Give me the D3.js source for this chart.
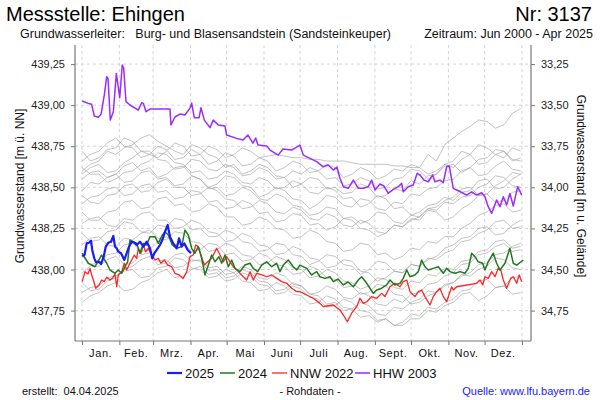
<!DOCTYPE html>
<html><head><meta charset="utf-8">
<script src="https://cdn.jsdelivr.net/npm/d3@7"></script>
<style>body{margin:0;background:#fff}svg{display:block;font-family:"Liberation Sans",Arial,sans-serif}</style>
</head><body><svg id="c" width="600" height="400"></svg>
<script>
// ---- data ----
const monthLabels = ["Jan.","Feb.","Mrz.","Apr.","Mai","Juni","Juli","Aug.","Sept.","Okt.","Nov.","Dez."];
const monthStarts = [0,31,59,90,120,151,181,212,243,273,304,334,365];
const leftTicks = [437.75,438.00,438.25,438.50,438.75,439.00,439.25];
const rightTicks = [33.25,33.50,33.75,34.00,34.25,34.50,34.75];
const groundLevel = 472.50;
const greyStepDays = 7; // weekly values, day of year = index * 7
const greyYears = [
[438.66,438.70,438.72,438.77,438.80,438.75,438.74,438.68,438.70,438.75,438.73,438.67,438.68,438.73,438.70,438.64,438.66,438.71,438.69,438.63,438.64,438.68,438.66,438.60,438.62,438.66,438.64,438.59,438.60,438.64,438.62,438.56,438.58,438.62,438.60,438.55,438.57,438.61,438.60,438.64,438.62,438.70,438.66,438.76,438.80,438.84,438.87,438.91,438.90,438.86,438.88,438.95,438.98],
[438.72,438.66,438.68,438.73,438.74,438.80,438.78,438.72,438.70,438.68,438.72,438.77,438.75,438.69,438.70,438.75,438.73,438.68,438.70,438.74,438.72,438.68,438.69,438.70,438.69,438.68,438.68,438.67,438.67,438.66,438.66,438.66,438.65,438.64,438.64,438.64,438.64,438.63,438.63,438.62,438.62,438.58,438.60,438.64,438.66,438.72,438.70,438.76,438.74,438.70,438.68,438.74,438.72],
[438.60,438.64,438.66,438.72,438.70,438.74,438.76,438.80,438.82,438.78,438.75,438.72,438.70,438.76,438.74,438.70,438.68,438.62,438.64,438.58,438.60,438.64,438.62,438.57,438.56,438.50,438.52,438.56,438.55,438.49,438.50,438.46,438.47,438.52,438.50,438.44,438.45,438.49,438.48,438.54,438.52,438.57,438.58,438.64,438.62,438.67,438.70,438.64,438.65,438.70,438.72,438.66,438.68],
[438.55,438.59,438.60,438.56,438.58,438.63,438.65,438.60,438.62,438.56,438.58,438.62,438.63,438.57,438.55,438.50,438.52,438.57,438.56,438.51,438.50,438.44,438.46,438.50,438.48,438.43,438.42,438.37,438.40,438.45,438.44,438.39,438.38,438.43,438.42,438.37,438.36,438.41,438.40,438.46,438.45,438.49,438.50,438.54,438.55,438.60,438.62,438.57,438.58,438.63,438.66,438.61,438.60],
[438.62,438.58,438.58,438.53,438.55,438.59,438.60,438.64,438.66,438.71,438.70,438.65,438.64,438.59,438.60,438.55,438.56,438.60,438.58,438.53,438.52,438.56,438.54,438.49,438.50,438.54,438.52,438.47,438.46,438.50,438.48,438.43,438.44,438.38,438.40,438.45,438.43,438.37,438.38,438.33,438.35,438.39,438.40,438.44,438.42,438.47,438.48,438.54,438.55,438.49,438.50,438.55,438.58],
[438.48,438.53,438.52,438.56,438.58,438.53,438.54,438.59,438.60,438.55,438.56,438.51,438.52,438.57,438.55,438.49,438.50,438.45,438.46,438.50,438.48,438.43,438.42,438.46,438.44,438.39,438.38,438.33,438.34,438.38,438.37,438.31,438.32,438.28,438.30,438.35,438.34,438.29,438.28,438.33,438.32,438.37,438.36,438.41,438.40,438.44,438.45,438.50,438.52,438.57,438.56,438.51,438.50],
[438.40,438.44,438.45,438.49,438.50,438.45,438.46,438.51,438.52,438.47,438.48,438.43,438.44,438.48,438.47,438.41,438.42,438.37,438.38,438.42,438.40,438.34,438.35,438.29,438.30,438.34,438.33,438.27,438.28,438.24,438.26,438.31,438.30,438.25,438.24,438.20,438.22,438.27,438.26,438.31,438.30,438.36,438.35,438.30,438.32,438.37,438.40,438.45,438.46,438.41,438.42,438.47,438.48],
[438.35,438.30,438.30,438.35,438.36,438.41,438.42,438.37,438.38,438.43,438.44,438.39,438.40,438.35,438.36,438.40,438.38,438.32,438.32,438.27,438.28,438.32,438.30,438.25,438.24,438.19,438.20,438.24,438.22,438.17,438.16,438.11,438.12,438.16,438.15,438.09,438.10,438.06,438.08,438.13,438.12,438.17,438.16,438.20,438.20,438.25,438.28,438.33,438.35,438.39,438.40,438.35,438.36],
[438.28,438.31,438.32,438.27,438.26,438.31,438.30,438.34,438.35,438.30,438.30,438.25,438.26,438.30,438.28,438.23,438.22,438.17,438.18,438.22,438.20,438.15,438.14,438.09,438.10,438.14,438.12,438.07,438.06,438.01,438.02,438.06,438.05,437.99,437.98,437.93,437.95,437.99,437.98,438.03,438.02,438.07,438.06,438.10,438.12,438.17,438.18,438.22,438.24,438.29,438.30,438.25,438.26],
[438.22,438.17,438.18,438.23,438.24,438.29,438.28,438.23,438.22,438.27,438.26,438.31,438.30,438.24,438.25,438.20,438.20,438.24,438.22,438.17,438.16,438.11,438.12,438.16,438.15,438.09,438.08,438.03,438.05,438.09,438.08,438.03,438.02,437.97,438.00,438.05,438.04,437.99,437.98,438.03,438.02,438.06,438.08,438.13,438.15,438.19,438.20,438.25,438.26,438.21,438.22,438.27,438.30],
[438.15,438.19,438.20,438.15,438.14,438.19,438.18,438.22,438.24,438.19,438.18,438.23,438.22,438.17,438.16,438.11,438.12,438.16,438.14,438.09,438.08,438.03,438.04,438.08,438.06,438.01,438.00,437.95,437.96,438.00,437.98,437.93,437.92,437.88,437.90,437.95,437.94,437.89,437.88,437.93,437.92,437.97,437.96,438.01,438.00,438.05,438.06,438.11,438.12,438.17,438.18,438.13,438.14],
[438.08,438.03,438.04,438.09,438.10,438.15,438.16,438.11,438.12,438.17,438.20,438.15,438.16,438.11,438.12,438.16,438.15,438.09,438.10,438.05,438.06,438.10,438.08,438.03,438.02,437.97,437.98,438.02,438.00,437.95,437.94,437.89,437.90,437.85,437.86,437.91,437.90,437.85,437.84,437.79,437.80,437.84,437.86,437.91,437.92,437.96,437.98,438.03,438.04,438.09,438.10,438.14,438.16],
[437.98,438.02,438.02,438.06,438.08,438.03,438.04,438.09,438.10,438.05,438.06,438.01,438.02,438.06,438.05,437.99,438.00,437.95,437.96,438.00,437.98,437.93,437.92,437.87,437.88,437.92,437.90,437.85,437.84,437.79,437.80,437.75,437.76,437.71,437.72,437.68,437.70,437.66,437.68,437.73,437.72,437.77,437.76,437.80,437.82,437.87,437.88,437.93,437.94,437.89,437.90,437.95,437.96],
[437.92,437.87,437.88,437.93,437.95,437.99,438.00,437.95,437.96,438.01,438.02,438.07,438.06,438.01,438.00,437.95,437.96,438.00,437.98,437.93,437.92,437.87,437.88,437.92,437.90,437.85,437.84,437.79,437.80,437.84,437.82,437.77,437.76,437.80,437.78,437.73,437.72,437.77,437.76,437.80,437.82,437.87,437.86,437.90,437.92,437.97,437.96,438.00,438.02,438.07,438.06,438.01,438.00],
[437.86,437.89,437.90,437.95,437.96,438.00,438.02,438.06,438.08,438.03,438.04,438.09,438.10,438.05,438.06,438.01,438.02,437.97,437.98,438.02,438.00,437.95,437.94,437.98,437.96,437.91,437.90,437.85,437.86,437.90,437.88,437.83,437.82,437.86,437.84,437.79,437.78,437.82,437.80,437.85,437.86,437.91,437.92,437.96,437.98,438.03,438.04,438.09,438.10,438.14,438.16,438.11,438.12],
[438.45,438.41,438.40,438.45,438.46,438.51,438.52,438.47,438.48,438.53,438.55,438.50,438.50,438.45,438.46,438.50,438.48,438.43,438.42,438.37,438.38,438.42,438.40,438.35,438.34,438.38,438.36,438.31,438.30,438.34,438.32,438.27,438.26,438.30,438.28,438.23,438.22,438.27,438.26,438.30,438.32,438.37,438.38,438.42,438.44,438.49,438.50,438.45,438.46,438.51,438.54,438.59,438.58],
[438.58,438.62,438.64,438.59,438.60,438.65,438.68,438.72,438.72,438.67,438.66,438.61,438.62,438.67,438.66,438.61,438.60,438.64,438.62,438.57,438.58,438.62,438.60,438.55,438.56,438.60,438.58,438.62,438.60,438.55,438.56,438.51,438.52,438.56,438.54,438.49,438.50,438.55,438.56,438.61,438.60,438.55,438.58,438.63,438.64,438.59,438.62,438.67,438.68,438.73,438.72,438.67,438.66],
[437.80,437.84,437.86,437.90,437.92,437.87,437.88,437.92,437.94,437.98,438.00,437.95,437.96,438.00,438.02,437.97,437.98,437.93,437.94,437.98,437.96,437.91,437.90,437.85,437.86,437.90,437.88,437.83,437.82,437.77,437.78,437.82,437.80,437.75,437.74,437.69,437.70,437.66,437.66,437.70,437.70,437.75,437.74,437.78,437.80,437.85,437.86,437.81,437.84,437.89,437.90,437.85,437.86]
];
const hhw2003 = [[0.2,439.025],[5.2,439.011],[8.0,439.005],[10.2,438.934],[13.5,438.926],[15.8,438.944],[18.5,439.061],[20.5,439.173],[21.6,439.163],[23.5,438.909],[26.0,438.960],[28.5,439.193],[31.3,439.045],[33.4,439.244],[34.6,439.224],[36.5,439.021],[39.8,439.001],[46.7,438.970],[49.5,439.015],[50.9,439.011],[53.1,438.960],[56.4,438.976],[73.0,438.976],[73.8,438.879],[77.1,438.928],[81.3,438.946],[85.4,438.940],[89.6,438.982],[91.0,439.013],[93.2,438.923],[97.1,438.923],[98.7,438.984],[101.5,438.909],[106.2,438.863],[108.9,438.909],[113.1,438.879],[118.6,438.873],[120.0,438.818],[128.3,438.798],[133.6,438.788],[137.7,438.818],[141.8,438.769],[144.1,438.800],[146.0,438.757],[153.2,438.751],[156.0,438.727],[162.8,438.696],[166.7,438.733],[173.9,438.727],[176.7,438.739],[180.8,438.757],[183.6,438.696],[189.1,438.676],[194.7,438.656],[200.2,438.625],[204.3,438.636],[208.5,438.605],[211.5,438.623],[214.0,438.555],[216.8,438.504],[220.9,438.494],[225.1,438.544],[229.2,438.494],[233.4,438.494],[237.5,438.504],[240.3,438.544],[243.1,438.484],[247.2,438.520],[250.5,438.508],[254.1,438.464],[258.2,438.488],[262.4,438.504],[265.2,438.524],[266.5,438.473],[270.7,438.504],[274.8,438.514],[278.1,438.585],[280.4,438.575],[283.7,438.544],[287.3,438.534],[290.9,438.575],[292.8,438.534],[297.0,438.544],[299.7,438.528],[302.5,438.625],[304.7,438.630],[308.0,438.494],[312.2,438.479],[316.3,438.464],[319.1,438.453],[323.3,438.473],[327.4,438.453],[331.6,438.467],[334.3,438.443],[337.0,438.382],[339.9,438.342],[344.0,438.423],[346.7,438.382],[349.5,438.443],[352.3,438.392],[355.0,438.463],[357.8,438.386],[361.4,438.504],[364.8,438.453]];
const nnw2022 = [[0.2,437.926],[2.5,437.987],[5.0,437.973],[6.6,438.007],[8.0,437.967],[9.4,437.936],[11.4,437.886],[14.1,437.906],[16.3,437.936],[18.5,437.926],[20.5,437.953],[23.2,437.936],[25.1,437.946],[27.4,437.973],[28.8,437.895],[30.1,437.967],[32.9,437.987],[35.1,438.038],[37.1,437.997],[39.0,438.027],[41.2,438.058],[43.4,438.088],[45.4,438.068],[46.7,438.129],[48.9,438.099],[50.9,438.149],[52.8,438.108],[55.0,438.129],[57.8,438.088],[60.6,438.058],[63.3,438.068],[65.5,438.038],[68.3,438.058],[71.1,438.027],[74.4,438.017],[77.1,437.977],[80.5,437.967],[84.0,437.946],[86.9,437.987],[89.6,438.078],[92.3,438.088],[94.3,438.149],[96.5,438.139],[98.7,438.088],[101.5,438.027],[104.3,438.047],[107.6,438.068],[111.7,438.129],[114.5,438.088],[117.2,438.047],[120.0,438.078],[122.8,438.047],[125.5,438.017],[129.7,437.987],[133.8,437.956],[136.6,437.936],[139.4,437.987],[142.1,437.936],[144.9,437.977],[149.1,437.967],[153.2,437.956],[157.4,437.967],[161.5,437.946],[165.7,437.926],[169.8,437.916],[174.0,437.886],[178.1,437.865],[180.8,437.865],[186.4,437.845],[191.9,437.825],[197.4,437.794],[200.2,437.774],[203.0,437.778],[208.5,437.784],[214.0,437.754],[216.8,437.723],[220.1,437.682],[223.7,437.734],[227.9,437.774],[230.6,437.825],[233.4,437.794],[236.2,437.804],[240.3,437.835],[244.5,437.825],[248.6,437.855],[251.3,437.835],[255.5,437.895],[259.6,437.916],[263.8,437.895],[266.5,437.926],[269.4,437.936],[272.1,437.865],[276.2,437.835],[279.0,437.865],[281.8,437.875],[284.5,437.835],[288.7,437.784],[291.4,437.835],[294.2,437.865],[297.0,437.886],[299.7,437.835],[302.5,437.804],[306.7,437.895],[308.0,437.875],[310.8,437.895],[327.4,437.916],[330.2,437.936],[332.4,437.906],[334.3,437.956],[337.0,437.946],[339.9,437.987],[342.6,437.956],[345.3,438.007],[347.6,437.993],[349.5,437.936],[352.3,437.886],[355.6,437.946],[357.8,437.956],[360.6,437.916],[362.7,437.967],[364.8,437.926]];
const y2024 = [[0.2,438.099],[5.2,438.038],[10.8,438.017],[16.3,438.088],[20.5,438.038],[23.2,437.997],[27.4,437.977],[30.1,437.997],[32.9,437.977],[35.7,438.017],[37.9,438.047],[39.8,438.179],[42.6,438.169],[45.4,438.159],[48.1,438.099],[50.9,438.159],[53.7,438.149],[56.4,438.200],[60.6,438.200],[63.3,438.159],[66.6,438.210],[68.9,438.230],[71.6,438.210],[74.9,438.149],[78.6,438.129],[82.7,438.139],[85.4,438.240],[88.2,438.210],[91.0,438.129],[93.7,438.099],[96.5,438.139],[99.3,438.068],[102.0,437.967],[104.8,438.027],[107.6,438.088],[110.3,438.047],[113.6,438.078],[115.9,438.038],[118.6,438.088],[121.4,438.017],[124.2,438.058],[126.9,438.007],[131.1,437.987],[135.2,438.027],[139.4,438.038],[142.1,438.007],[145.7,437.987],[149.1,438.027],[153.2,438.047],[157.4,438.017],[161.5,438.038],[164.2,437.987],[167.0,438.027],[171.1,438.058],[175.3,438.017],[178.1,437.997],[180.8,438.027],[186.4,438.007],[190.5,437.967],[194.7,437.987],[197.4,437.956],[201.6,437.946],[205.7,437.956],[208.5,437.926],[212.4,437.942],[216.8,437.906],[220.7,437.924],[225.1,437.895],[229.2,437.936],[232.0,437.956],[236.2,437.916],[238.9,437.886],[241.6,437.855],[244.5,437.875],[248.6,437.886],[252.8,437.906],[255.5,437.936],[259.6,437.906],[263.8,437.916],[266.5,437.946],[269.4,437.997],[272.1,437.956],[276.2,437.967],[279.0,437.987],[281.8,438.058],[284.5,438.017],[287.3,437.997],[291.4,438.007],[295.6,438.017],[299.7,437.977],[302.5,438.007],[305.3,437.987],[309.4,437.977],[313.6,437.987],[317.7,437.977],[320.5,438.007],[323.3,438.099],[326.0,438.078],[328.7,438.047],[332.4,438.038],[334.3,437.997],[337.0,438.047],[341.2,438.099],[344.0,438.038],[346.7,437.997],[350.9,438.038],[355.0,438.129],[357.8,438.038],[360.6,438.027],[366.1,438.058]];
const y2025 = [[0.2,438.082],[2.1,438.088],[3.9,438.159],[5.8,438.163],[7.5,438.175],[8.5,438.119],[10.2,438.068],[11.4,438.047],[14.1,438.047],[15.8,438.033],[18.0,438.078],[19.7,438.139],[21.8,438.163],[24.1,438.169],[26.0,438.204],[27.4,438.139],[28.8,438.129],[30.1,438.108],[32.4,438.099],[35.1,438.058],[37.1,438.099],[39.0,438.139],[41.2,438.169],[43.4,438.163],[45.4,438.149],[48.1,438.169],[50.9,438.139],[53.7,438.169],[56.4,438.129],[58.3,438.068],[60.0,438.099],[62.0,438.119],[64.7,438.149],[66.6,438.179],[68.9,438.230],[71.1,438.271],[73.0,438.200],[75.7,438.159],[78.6,438.129],[80.5,438.190],[82.7,438.139],[84.9,438.159],[87.7,438.119],[90.4,438.099]];
const legendItems = [["2025","#1a1aff",2.2],["2024","#1f7a1f",1.5],["NNW 2022","#ff2424",1.3],["HHW 2003","#9a2cff",1.5]];

// ---- chart ----
const svg = d3.select("#c");
const L = 75, R = 531, T = 45, B = 341;
const x = d3.scaleLinear().domain([-5.8, 372.5]).range([L, R]);
const y = d3.scaleLinear().domain([437.565, 439.366]).range([B, T]);
const y2 = d3.scaleLinear().domain([groundLevel-437.565, groundLevel-439.366]).range([B, T]);
const fmt = v => d3.format(".2f")(v).replace(".", ",");

// grid
const g = svg.append("g");
g.selectAll("line.h").data(leftTicks).join("line")
  .attr("x1", L).attr("x2", R).attr("y1", d => y(d)).attr("y2", d => y(d))
  .attr("stroke", "#d4d4d4").attr("stroke-dasharray", "3,3");
g.selectAll("line.v").data(monthStarts).join("line")
  .attr("x1", d => x(d)).attr("x2", d => x(d)).attr("y1", T).attr("y2", B)
  .attr("stroke", "#d4d4d4").attr("stroke-dasharray", "3,3");

const line = d3.line().x(d => x(d[0])).y(d => y(d[1]));
// grey years
greyYears.forEach(vals => {
  svg.append("path").datum(vals.map((v, i) => [i * greyStepDays, v]))
    .attr("d", line).attr("fill", "none").attr("stroke", "#9a9a9a")
    .attr("stroke-opacity", 0.7).attr("stroke-width", 0.85).attr("stroke-linejoin", "round");
});
const series = [[nnw2022, legendItems[2]], [y2024, legendItems[1]], [hhw2003, legendItems[3]], [y2025, legendItems[0]]];
series.forEach(([data, it]) => {
  svg.append("path").datum(data).attr("d", line).attr("fill", "none")
    .attr("stroke", it[1]).attr("stroke-width", it[2]).attr("stroke-linejoin", "round");
});

// axes frame
const axC = "#777";
svg.append("line").attr("x1", L).attr("x2", L).attr("y1", T).attr("y2", B).attr("stroke", axC).attr("stroke-width", 1.2);
svg.append("line").attr("x1", R).attr("x2", R).attr("y1", T).attr("y2", B).attr("stroke", axC).attr("stroke-width", 1.2);
svg.append("line").attr("x1", L).attr("x2", R).attr("y1", B).attr("y2", B).attr("stroke", axC).attr("stroke-width", 1.2);

const yAxL = d3.axisLeft(y).tickValues(leftTicks).tickFormat(fmt).tickSize(4).tickPadding(6);
const gl = svg.append("g").attr("transform", `translate(${L},0)`).call(yAxL);
gl.select(".domain").remove();
gl.selectAll("line").attr("stroke", axC);
gl.selectAll("text").attr("font-size", 11).attr("fill", "#222").attr("font-family", "Liberation Sans, Arial, sans-serif");

const yAxR = d3.axisRight(y2).tickValues(rightTicks).tickFormat(fmt).tickSize(4).tickPadding(6);
const gr = svg.append("g").attr("transform", `translate(${R},0)`).call(yAxR);
gr.select(".domain").remove();
gr.selectAll("line").attr("stroke", axC);
gr.selectAll("text").attr("font-size", 11).attr("fill", "#222").attr("font-family", "Liberation Sans, Arial, sans-serif");

const xAx = d3.axisBottom(x).tickValues(monthStarts).tickFormat("").tickSize(4);
const gx = svg.append("g").attr("transform", `translate(0,${B})`).call(xAx);
gx.select(".domain").remove();
gx.selectAll("line").attr("stroke", axC);
svg.selectAll("text.mon").data(monthLabels).join("text").attr("class", "mon")
  .attr("x", (d, i) => x((monthStarts[i] + monthStarts[i+1]) / 2)).attr("y", 357)
  .attr("text-anchor", "middle").attr("font-size", 11).attr("letter-spacing", 0.6).attr("fill", "#111").text(d => d);

// axis titles
svg.append("text").attr("transform", "translate(24,186) rotate(-90)").attr("text-anchor", "middle")
  .attr("font-size", 12).attr("fill", "#111").text("Grundwasserstand [m ü. NN]");
svg.append("text").attr("transform", "translate(577,186) rotate(90)").attr("text-anchor", "middle")
  .attr("font-size", 12).attr("fill", "#111").text("Grundwasserstand [m u. Gelände]");

// titles
svg.append("text").attr("x", 6).attr("y", 21).attr("font-size", 20).attr("fill", "#000").text("Messstelle: Ehingen");
svg.append("text").attr("x", 592).attr("y", 21).attr("text-anchor", "end").attr("font-size", 20).attr("fill", "#000").text("Nr: 3137");
svg.append("text").attr("x", 20).attr("y", 38).attr("font-size", 12.5).attr("fill", "#111").style("white-space", "pre").text("Grundwasserleiter:   Burg- und Blasensandstein (Sandsteinkeuper)");
svg.append("text").attr("x", 593).attr("y", 38).attr("text-anchor", "end").attr("font-size", 12.5).attr("fill", "#111").text("Zeitraum: Jun 2000 - Apr 2025");

// legend
const legX = [167, 220, 272, 355];
legendItems.forEach((it, i) => {
  svg.append("line").attr("x1", legX[i]).attr("x2", legX[i] + 15).attr("y1", 373).attr("y2", 373)
    .attr("stroke", it[1]).attr("stroke-width", it[2]);
  svg.append("text").attr("x", legX[i] + 18).attr("y", 378).attr("font-size", 13).attr("fill", "#111").text(it[0]);
});

// footer
svg.append("text").attr("x", 22).attr("y", 395).attr("font-size", 11).attr("fill", "#111").style("white-space", "pre").text("erstellt:  04.04.2025");
svg.append("text").attr("x", 310).attr("y", 395).attr("text-anchor", "middle").attr("font-size", 11).attr("fill", "#111").text("- Rohdaten -");
svg.append("text").attr("x", 590).attr("y", 395).attr("text-anchor", "end").attr("font-size", 11).attr("fill", "#1a1aff").text("Quelle: www.lfu.bayern.de");
</script></body></html>
